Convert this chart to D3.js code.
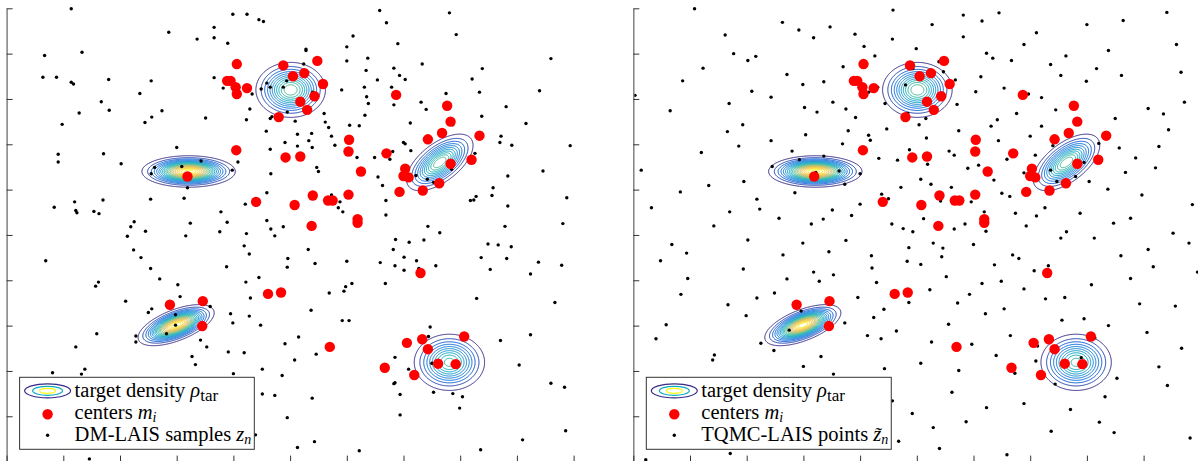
<!DOCTYPE html>
<html>
<head>
<meta charset="utf-8">
<script src="https://cdn.jsdelivr.net/npm/d3@7"></script>
<style>
  body { margin: 0; background: #fff; }
  svg { display: block; }
</style>
</head>
<body>
<div id="wrapper"></div>
<script>
// ---- data (axis units: ticks at 0..10 on both axes) ----
const tickValues = d3.range(0, 11)

// centers m_i (same in both panels)
const centers = [
  [4.06,8.77],[4.88,8.74],[5.05,8.50],[3.89,8.40],[3.95,8.40],[4.04,8.26],[4.06,8.11],[4.24,8.24],[5.18,7.94],[4.80,7.60],
  [4.05,6.87],[4.92,6.71],[5.18,6.73],[5.48,8.84],[5.25,8.57],[5.58,8.33],[5.43,8.06],[5.30,7.76],[6.87,8.09],[7.77,7.85],
  [7.83,7.50],[7.43,7.11],[7.68,7.25],[8.34,7.19],[6.04,7.10],[6.03,6.84],[6.70,6.80],[8.20,6.66],[7.83,6.57],[7.03,6.46],
  [7.00,6.30],[7.09,6.27],[6.93,5.95],[7.34,5.98],[7.63,6.14],[6.25,6.40],[5.40,5.87],[5.67,5.76],[5.75,5.76],[6.03,5.89],
  [6.19,5.35],[6.19,5.27],[5.38,5.20],[7.30,4.16],[3.19,6.29],[4.40,5.73],[5.08,5.66],[4.61,3.70],[4.84,3.73],[2.88,3.46],
  [3.46,3.54],[3.45,2.99],[5.70,2.53],[7.06,2.62],[7.33,2.70],[7.43,2.48],[8.07,2.76],[7.61,2.16],[7.92,2.15],[6.67,2.07],
  [7.19,1.91]
]

// DM-LAIS samples z_n (left panel)
const samplesDM = [
  [1.14,9.99],[3.99,9.87],[4.24,9.87],[4.45,9.75],[4.53,9.71],[2.86,9.47],[3.66,9.58],[3.36,9.32],[3.66,9.35],[3.90,9.23],
  [0.67,8.96],[1.33,9.03],[0.64,8.48],[0.88,8.48],[1.14,8.37],[1.18,8.33],[1.80,8.43],[2.55,8.40],[3.66,8.47],[3.82,8.24],
  [4.33,8.11],[4.59,8.35],[4.65,8.26],[4.49,8.22],[4.88,8.26],[4.94,8.40],[2.35,8.12],[1.67,7.94],[1.81,7.75],[1.28,7.69],
  [2.74,7.74],[2.56,7.60],[2.44,7.48],[3.51,7.58],[0.98,7.44],[4.29,7.78],[4.23,7.54],[4.65,7.57],[4.68,7.61],[4.95,7.71],
  [5.09,7.51],[4.58,7.29],[5.13,7.22],[4.91,7.04],[5.13,6.96],[3.00,6.93],[4.65,6.89],
  [6.58,9.95],[7.81,9.90],[6.70,9.68],[6.11,9.39],[7.93,9.42],[6.90,9.22],[6.00,9.15],[5.28,9.10],[5.28,9.07],[6.00,8.84],
  [6.37,8.90],[5.24,8.77],[7.33,8.77],[9.60,8.89],[6.34,8.63],[6.83,8.68],[6.93,8.52],[7.03,8.43],[6.54,8.42],[8.39,8.67],
  [8.21,8.44],[5.91,8.20],[6.31,8.26],[6.79,8.26],[6.35,8.05],[6.38,7.90],[6.83,7.87],[7.31,7.93],[7.40,7.77],[7.75,8.12],
  [8.34,8.15],[9.40,8.18],[8.81,7.83],[8.38,7.62],[9.16,7.46],[5.40,8.15],[5.42,8.07],[5.22,7.91],[5.60,7.68],[5.62,7.49],
  [5.68,7.37],[5.38,7.24],[5.73,7.18],[5.33,7.08],[5.39,6.93],[5.79,6.98],[6.05,7.42],[6.22,7.41],[6.32,7.64],[7.12,7.47],
  [7.00,7.04],[7.03,7.01],[7.87,7.43],[8.70,7.04],[8.72,7.18],[8.91,6.98],[9.94,6.97],[7.13,6.86],
  [6.18,6.71],[6.49,6.71],[6.81,6.84],[6.76,6.67],[8.26,6.80],[5.47,6.49],[5.50,6.40],[6.55,6.28],[6.63,6.09],[7.22,6.31],
  [7.42,6.23],[7.53,6.16],[7.85,6.45],[8.84,6.30],[9.46,6.41],[8.58,6.04],[8.56,5.87],[8.28,5.85],[8.24,5.77],[8.18,5.76],
  [8.84,5.64],[9.88,5.82],[5.73,5.88],[5.88,5.73],[5.85,5.60],[5.93,5.51],[6.69,5.76],[6.69,5.44],[7.43,5.19],[7.64,5.05],
  [8.79,5.19],[9.81,5.25],[6.86,4.90],[7.10,4.84],[7.36,4.89],[6.82,4.68],[7.01,4.51],[7.23,4.43],[7.27,4.26],[6.85,4.32],
  [7.01,4.22],[7.57,4.32],[6.59,4.39],[8.49,4.80],[8.67,4.78],[8.90,4.74],[8.37,4.50],[8.82,4.48],[8.53,4.24],[9.38,4.40],
  [9.79,4.33],[9.24,4.14],[5.32,4.68],[5.44,4.37],[6.00,4.42],[5.69,3.72],[5.98,3.86],[5.95,3.76],[6.09,3.93],[6.68,3.93],
  [8.29,3.60],
  [0.91,6.78],[1.71,6.79],[0.91,6.61],[2.02,6.57],[2.61,6.49],[3.09,6.51],[3.43,6.63],[2.55,6.35],[3.98,6.43],[4.08,6.61],
  [4.66,6.35],[3.19,6.04],[4.59,5.93],[4.21,5.68],[3.13,5.81],[2.54,5.79],[1.70,5.77],[1.20,5.73],[0.84,5.61],[1.22,5.54],
  [1.24,5.49],[1.54,5.52],[1.63,5.47],[3.78,5.51],[3.89,5.28],[3.24,5.26],[2.25,5.29],[2.19,5.18],[2.45,5.08],[2.13,4.97],
  [3.16,4.98],[3.76,5.07],[4.23,5.03],[4.59,5.32],[4.66,5.13],[4.73,4.98],[4.88,5.18],[4.19,4.76],[4.28,4.58],[4.96,4.48],
  [4.95,4.29],[2.24,4.67],[2.37,4.50],[0.69,4.43],[2.54,4.26],[2.70,4.03],[3.88,4.30],[4.45,4.06],[4.22,3.96],[4.30,3.61],
  [3.02,3.90],[3.06,3.64],[1.62,3.96],[1.57,3.87],
  [2.10,3.54],[3.59,3.42],[2.56,3.37],[2.50,3.29],[2.98,3.24],[2.98,3.01],[2.82,2.82],[3.95,3.26],[3.99,3.06],[4.28,3.21],
  [4.48,3.01],[1.59,2.82],[2.28,2.77],[2.28,2.64],[3.42,2.68],[3.53,2.53],[1.22,2.53],[3.91,2.42],[4.19,2.40],[3.27,2.32],
  [3.33,2.14],[4.91,2.60],[5.15,2.75],[5.08,2.24],[0.81,1.96],[1.32,1.93],[1.38,2.04],[4.00,1.94],[4.51,2.04],[4.86,1.90],
  [4.51,1.49],[4.73,1.46],[4.95,0.97],[4.39,0.59],[5.13,0.31],[1.46,0.06],
  [9.67,3.51],[5.37,3.34],[5.92,3.11],[6.04,3.11],[7.47,2.97],[7.44,2.76],[5.46,2.37],[6.85,2.30],[7.09,2.04],[7.19,1.84],
  [6.83,1.72],[6.85,1.74],[7.50,2.17],[7.53,1.53],[7.87,1.50],[8.04,1.43],[7.99,1.18],[6.94,1.48],[6.94,1.03],[8.71,2.67],
  [9.24,2.80],[9.04,2.13],[9.60,1.73],[9.84,1.64],[5.39,1.40],[9.86,0.68],[9.10,0.48],[5.43,0.44],[6.22,0.24],[8.36,0.26]
]

// TQMC-LAIS points (right panel)
const samplesTQMC = [
  [1.08,9.99],[2.63,9.69],[2.92,9.52],[3.18,9.35],[3.47,9.59],[3.91,9.43],[4.07,9.16],[4.26,8.95],[4.58,9.96],[4.57,9.32],
  [1.62,9.41],[1.77,9.00],[2.02,8.85],[2.16,8.94],[1.23,8.68],[0.87,8.40],[0.03,8.08],[0.65,7.74],[2.09,8.17],[2.43,8.04],
  [2.71,8.54],[2.99,8.32],[3.36,8.38],[3.70,8.71],[4.31,8.26],[4.15,8.15],[1.69,7.90],[3.02,7.81],[3.24,7.71],[3.52,7.93],
  [3.75,7.78],[3.92,7.59],[4.44,7.90],[4.47,7.34],[3.79,7.30],[4.15,7.20],[4.18,7.09],[3.69,7.01],[3.04,7.21],[2.43,7.08],
  [1.93,7.43],[1.66,7.28],[1.86,6.96],
  [5.82,9.85],[6.45,9.90],[5.27,9.64],[6.15,9.72],[5.82,9.37],[7.11,9.46],[8.00,9.64],[8.64,9.73],[9.41,9.91],[9.58,9.20],
  [8.38,9.07],[7.63,8.95],[6.89,9.20],[4.99,9.11],[6.23,9.01],[6.34,8.90],[6.67,8.85],[7.36,8.76],[8.17,8.67],[9.66,8.59],
  [5.39,8.82],[4.93,8.67],[5.47,8.60],[5.26,8.52],[5.68,8.42],[6.13,8.49],[7.54,8.52],[7.99,8.39],[8.61,8.52],[4.80,8.31],
  [6.04,8.16],[6.54,8.24],[6.97,8.11],[7.20,8.03],[5.71,7.88],[4.84,7.68],[5.16,7.57],[6.76,7.68],[7.45,7.76],[7.74,7.92],
  [7.88,7.47],[8.50,7.57],[9.08,7.79],[9.35,7.67],[9.72,7.93],[9.44,7.32],[5.04,7.43],[5.74,7.30],[6.42,7.54],[6.31,7.40],
  [7.20,7.40],[5.17,7.14],[6.44,7.08],[7.00,7.18],[7.40,6.97],[8.21,7.02],[8.57,6.92],[9.27,6.95],[4.87,6.88],
  [1.20,6.82],[2.80,6.85],[3.36,6.74],[4.33,6.69],[4.66,6.65],[0.14,6.43],[2.45,6.51],[2.93,6.66],[3.22,6.38],[3.63,6.41],
  [4.00,6.35],[3.73,6.12],[2.85,5.93],[1.95,6.18],[1.33,6.09],[0.83,5.95],[0.32,5.60],[2.18,5.79],[2.23,5.57],[1.70,5.51],
  [2.57,5.37],[3.14,5.24],[3.35,5.35],[3.51,5.55],[3.85,5.43],[4.00,5.68],[4.38,5.90],[4.50,5.80],[4.56,5.24],[1.42,5.20],
  [2.02,4.89],[0.68,4.79],[0.94,4.60],[0.48,4.43],[2.64,4.56],[2.99,4.82],[3.45,4.63],[3.75,4.88],[4.20,4.54],[4.21,4.27],
  [4.29,3.95],[1.94,4.25],[0.96,4.04],[2.71,4.03],[3.18,4.18],[3.28,3.98],[3.53,4.12],[0.84,3.69],[2.18,3.61],[2.49,3.72],
  [3.96,3.62],
  [5.57,6.85],[5.66,6.76],[5.19,6.56],[6.09,6.54],[5.90,6.47],[6.59,6.67],[7.09,6.76],[8.86,6.70],[9.21,6.48],[8.68,6.38],
  [7.95,6.60],[7.36,6.43],[6.89,6.37],[7.80,6.29],[7.47,6.18],[8.04,6.18],[6.36,6.21],[5.07,6.23],[5.25,6.12],[5.61,6.05],
  [4.72,6.05],[8.37,6.01],[8.97,5.88],[9.86,5.67],[6.50,5.92],[6.64,5.85],[5.42,5.75],[5.79,5.79],[5.96,5.73],[7.26,5.60],
  [6.74,5.48],[7.11,5.42],[7.88,5.48],[6.19,5.51],[5.12,5.36],[4.76,5.14],[4.93,5.07],[5.66,5.13],[5.85,5.24],[6.22,5.08],
  [6.93,5.20],[7.64,5.07],[7.54,4.93],[8.13,4.93],[8.47,5.26],[8.77,5.37],[9.52,5.04],[9.80,4.82],[9.08,4.68],[8.60,4.54],
  [9.17,4.30],[9.95,4.18],[8.77,4.04],[4.86,4.72],[5.29,4.82],[5.46,4.71],[6.00,4.79],[4.83,4.42],[5.07,4.35],[5.44,4.52],
  [6.37,4.34],[6.69,4.56],[6.80,4.48],[7.32,4.32],[7.07,4.21],[5.52,4.08],[6.15,3.93],[6.49,3.98],[6.89,3.81],[5.23,3.79],
  [5.93,3.69],[7.27,3.59],[7.61,3.62],[8.08,3.90],
  [1.67,3.46],[3.47,3.52],[4.42,3.36],[0.58,3.02],[1.99,3.22],[2.96,3.32],[2.75,2.90],[3.73,3.06],[4.24,3.18],[4.13,2.78],
  [4.37,2.71],[4.64,2.88],[0.40,2.71],[2.25,2.61],[2.48,2.45],[3.31,2.32],[1.40,2.24],[1.43,2.35],[3.00,2.10],[3.53,1.93],
  [4.43,2.05],[4.57,1.34],[1.71,0.18],[0.22,0.04],[4.68,0.45],
  [4.86,3.51],[5.72,3.50],[6.54,3.37],[6.21,3.26],[8.93,3.48],[9.56,3.43],[5.56,3.03],[7.56,3.12],[7.95,3.15],[8.38,3.00],
  [9.06,2.85],[5.26,2.64],[5.97,2.59],[6.65,2.78],[7.13,2.55],[8.14,2.73],[9.67,2.50],[5.07,2.17],[5.74,2.01],[6.40,2.34],
  [6.73,1.95],[7.10,2.22],[7.90,2.29],[7.44,1.71],[8.53,1.84],[9.27,2.09],[9.42,1.68],[5.62,1.53],[6.23,1.19],[6.89,1.28],
  [7.71,1.15],[8.32,1.43],[4.92,1.06],[5.87,0.88],[5.29,0.75],[7.37,0.67],[8.22,0.87],[8.48,0.64],[9.82,0.52],[5.40,0.29],
  [6.59,0.15]
]

// target density: gaussian mixture components
const compMeans  = [[5.01,8.20],[3.21,6.40],[7.64,6.60],[2.99,3.01],[7.81,2.19]]
const compSigmas = [[0.275,0.272],[0.335,0.141],[0.263,0.280],[0.274,0.185],[0.286,0.286]]
const compRho    = [0, 0, 0.6, 0.6, 0]
const compPeaks  = [12, 20.5, 12, 20, 10.5]
const contourLevels = d3.range(1, 21)

const legendTarget = "target density "
const legendCenters = "centers "
const sampleLabels = ["DM-LAIS samples ", "TQMC-LAIS points "]

// parula-like colormap
const parula = d3.piecewise(d3.interpolateRgb, [
  "#352a87", "#0363e1", "#1485d4", "#06a7c6", "#38b99e", "#92bf73", "#d9ba56", "#fcce2e", "#f9fb0e"
])

// ---- layout ----
const dims = { width: 1198, height: 461, top: 8.3, plotW: 567, plotH: 453.3 }
const panelX = [6.6, 633.3]

const svg = d3.select("#wrapper").append("svg")
  .attr("width", dims.width)
  .attr("height", dims.height)

const xScale = d3.scaleLinear().domain([0, 10]).range([0, dims.plotW])
const yScale = d3.scaleLinear().domain([0, 10]).range([dims.plotH, 0])

// density on a pixel grid
const gridW = 600, gridH = 460
const values = new Float64Array(gridW * gridH)
for (let j = 0; j < gridH; j++) {
  const yv = yScale.invert(j)
  for (let i = 0; i < gridW; i++) {
    const xv = xScale.invert(i)
    let f = 0
    for (let c = 0; c < compMeans.length; c++) {
      const dx = (xv - compMeans[c][0]) / compSigmas[c][0]
      const dy = (yv - compMeans[c][1]) / compSigmas[c][1]
      const r = compRho[c]
      const q = (dx * dx - 2 * r * dx * dy + dy * dy) / (1 - r * r)
      f += compPeaks[c] * Math.exp(-q / 2)
    }
    values[j * gridW + i] = f
  }
}
const contours = d3.contours().size([gridW, gridH]).thresholds(contourLevels)(values)
const levelColor = d3.scaleLinear().domain(d3.extent(contourLevels)).range([0, 1])
const contourPath = d3.geoPath()

const sampleSets = [samplesDM, samplesTQMC]
const font = "'Liberation Serif', 'Times New Roman', serif"

panelX.forEach((px, p) => {
  const bounds = svg.append("g").attr("transform", `translate(${px},${dims.top})`)

  // contours
  bounds.append("g")
    .attr("transform", "translate(-0.5,-0.5)")
    .selectAll("path")
    .data(contours)
    .join("path")
      .attr("d", contourPath)
      .attr("fill", "none")
      .attr("stroke", d => parula(levelColor(d.value)))
      .attr("stroke-width", 1)

  // samples
  bounds.append("g").selectAll("circle")
    .data(sampleSets[p])
    .join("circle")
      .attr("cx", d => xScale(d[0]))
      .attr("cy", d => yScale(d[1]))
      .attr("r", 1.7)
      .attr("fill", "#000")

  // centers
  bounds.append("g").selectAll("circle")
    .data(centers)
    .join("circle")
      .attr("cx", d => xScale(d[0]))
      .attr("cy", d => yScale(d[1]))
      .attr("r", 5.2)
      .attr("fill", "#ff0000")

  // axes (ticks point inward)
  const yAxis = bounds.append("g")
    .call(d3.axisLeft(yScale).tickValues(tickValues).tickSize(-6).tickSizeOuter(0).tickFormat(""))
  const xAxis = bounds.append("g")
    .attr("transform", `translate(0,${dims.plotH})`)
    .call(d3.axisBottom(xScale).tickValues(tickValues).tickSize(-6).tickSizeOuter(0).tickFormat(""))
  ;[yAxis, xAxis].forEach(a => {
    a.select(".domain").attr("stroke", "#808080").attr("stroke-width", 1.5)
    a.selectAll(".tick line").attr("stroke", "#333").attr("stroke-width", 1)
  })

  // legend
  const legend = bounds.append("g").attr("transform", "translate(13,369)")
  const box = legend.append("rect")
    .attr("height", 72)
    .attr("fill", "#fff")
    .attr("stroke", "#333")
    .attr("stroke-width", 1)
  const iconX = 28
  ;[[23, 7, 0], [15, 4.5, 0.4], [8, 2.5, 1]].forEach(([rx, ry, t]) => {
    legend.append("ellipse")
      .attr("cx", iconX).attr("cy", 13.5)
      .attr("rx", rx).attr("ry", ry)
      .attr("fill", "none")
      .attr("stroke", parula(t))
      .attr("stroke-width", 1.2)
  })
  legend.append("circle").attr("cx", iconX).attr("cy", 37).attr("r", 5.2).attr("fill", "#ff0000")
  legend.append("circle").attr("cx", iconX).attr("cy", 58).attr("r", 1.7).attr("fill", "#000")

  const t1 = legend.append("text").attr("x", 55).attr("y", 19.5)
    .attr("font-family", font).attr("font-size", 20.5).attr("fill", "#000")
  t1.append("tspan").text(legendTarget)
  t1.append("tspan").attr("font-style", "italic").text("ρ")
  t1.append("tspan").attr("font-size", 17).attr("dy", 4).text("tar")

  const t2 = legend.append("text").attr("x", 55).attr("y", 41.5)
    .attr("font-family", font).attr("font-size", 20.5).attr("fill", "#000")
  t2.append("tspan").text(legendCenters)
  t2.append("tspan").attr("font-style", "italic").text("m")
  t2.append("tspan").attr("font-style", "italic").attr("font-size", 14).attr("dy", 3).text("i")

  const t3 = legend.append("text").attr("x", 55).attr("y", 64)
    .attr("font-family", font).attr("font-size", 20.5).attr("fill", "#000")
  t3.append("tspan").text(sampleLabels[p])
  t3.append("tspan").attr("font-style", "italic").text(p === 0 ? "z" : "z\u0303")
  t3.append("tspan").attr("font-style", "italic").attr("font-size", 14).attr("dy", 3).text("n")

  const w = d3.max([t1, t2, t3], t => t.node().getComputedTextLength())
  box.attr("width", 55 + w + 3)
})
</script>
</body>
</html>
